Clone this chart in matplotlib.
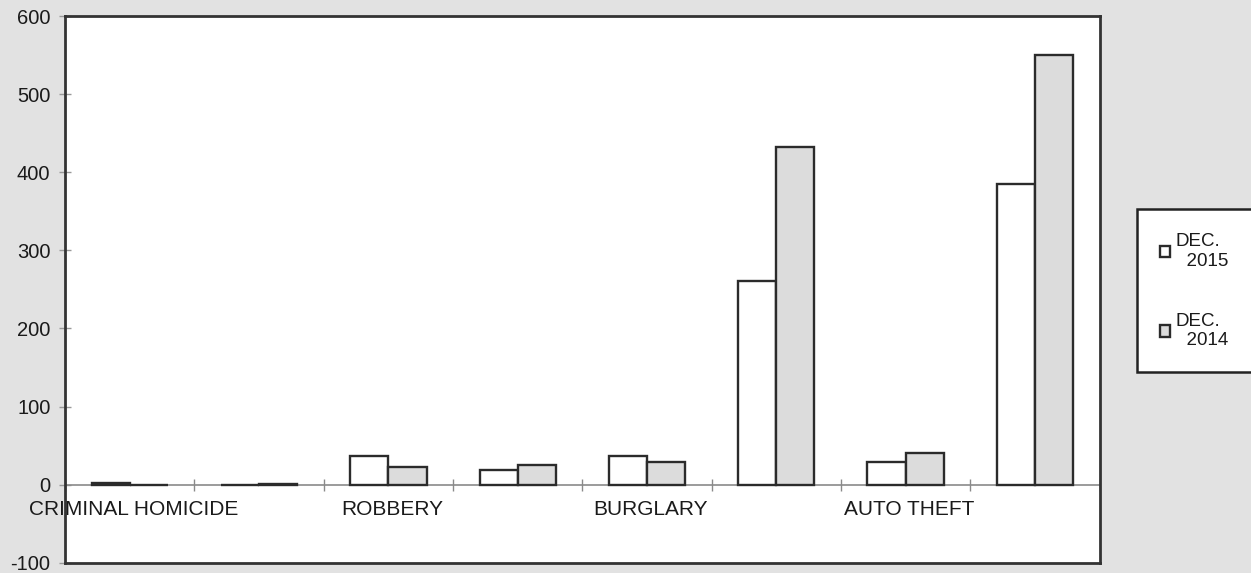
import numpy as np
import matplotlib.pyplot as plt
from matplotlib.patches import Rectangle

plt.rcParams['font.family'] = ['Liberation Sans', 'DejaVu Sans']
plt.rcParams['axes.unicode_minus'] = False

# Categories (only every other one carries a label in the original)
categories = ['CRIMINAL HOMICIDE', '', 'ROBBERY', '', 'BURGLARY', '', 'AUTO THEFT', '']
dec_2015 = [2, 0, 36, 19, 36, 261, 29, 385]
dec_2014 = [0, 1, 23, 25, 29, 432, 41, 550]
series_labels = ['DEC.\n  2015', 'DEC.\n  2014']
y_ticks = [-100, 0, 100, 200, 300, 400, 500, 600]

fig = plt.figure(figsize=(12.51, 5.73), dpi=100, facecolor='#e2e2e2')
ax = fig.add_axes([0.052, 0.018, 0.827, 0.954])
ax.set_facecolor('white')

x = np.arange(len(categories))
w = 0.295
edge = '#2b2b2b'
ax.bar(x - w / 2, dec_2015, w, color='white', edgecolor=edge, linewidth=1.7,
       label=series_labels[0], zorder=3)
ax.bar(x + w / 2, dec_2014, w, color='#dcdcdc', edgecolor=edge, linewidth=1.7,
       label=series_labels[1], zorder=3)

# Category axis drawn at y = 0, with tick marks between categories
ax.axhline(0, color='#8a8a8a', linewidth=1.2, zorder=2)
bounds = np.arange(len(categories) + 1) - 0.5
ax.plot(bounds, np.zeros(len(bounds)), linestyle='none', marker='|',
        markersize=9, color='#8a8a8a', zorder=2)
for xi, name in zip(x, categories):
    ax.text(xi + 0.03, -32, name, ha='center', va='center', fontsize=15,
            color='#1a1a1a')

ax.set_xlim(-0.5, len(categories) - 0.5)
ax.set_ylim(-100, 600)
ax.set_xticks([])
ax.set_yticks(y_ticks)
ax.tick_params(axis='y', direction='inout', length=9, width=1, color='#999999',
               labelsize=14.5, labelcolor='#1a1a1a', pad=6)
for s in ax.spines.values():
    s.set_color('#333333')
    s.set_linewidth(2)

# Legend box runs off the right edge of the picture
W, H = 1251, 573
fig.patches.append(Rectangle((1137 / W, 1 - 372 / H), 130 / W, 163 / H,
                             transform=fig.transFigure, facecolor='white',
                             edgecolor='#222222', linewidth=1.8, zorder=1))
leg = fig.legend(loc='upper left', bbox_to_anchor=(1160 / W, 1 - 233 / H),
                 fontsize=13.5, frameon=False, handlelength=0.55,
                 handleheight=0.55, handletextpad=0.3, labelspacing=2.3,
                 borderpad=0, borderaxespad=0)
leg.set_zorder(2)
for t in leg.get_texts():
    t.set_color('#1a1a1a')

fig.savefig('out.png', dpi=100, facecolor=fig.get_facecolor())
